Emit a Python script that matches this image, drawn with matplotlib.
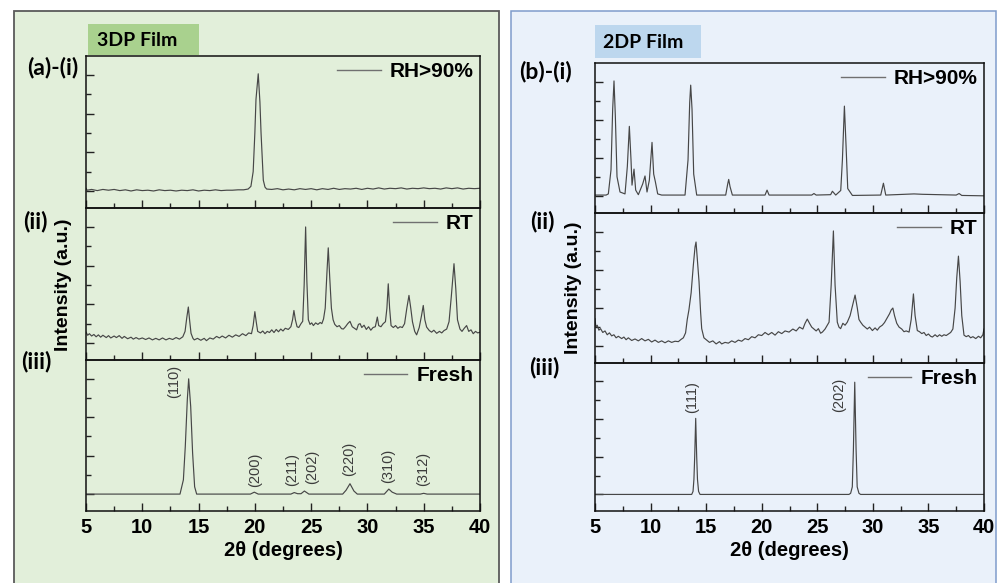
import matplotlib
matplotlib.use('Agg')
import matplotlib.pyplot as plt
from matplotlib.patches import Rectangle
from matplotlib.ticker import MultipleLocator
from matplotlib.font_manager import FontProperties

# ---------------- data ----------------
x_3dp_rh = [5.0, 5.1, 5.5, 6.0, 6.5, 7.0, 7.5, 8.0, 8.5, 9.0, 9.5, 10.0, 10.5, 11.0, 11.5, 12.0, 12.5, 13.0,
            13.5, 14.0, 14.5, 15.0, 15.5, 16.0, 16.5, 17.0, 17.5, 18.0, 18.5, 19.0, 19.4, 19.65, 19.85, 20.0,
            20.1, 20.3, 20.45, 20.55, 20.75, 20.9, 21.05, 21.5, 22.0, 22.5, 23.0, 23.5, 24.0, 24.5, 25.0, 25.5,
            26.0, 26.5, 27.0, 27.5, 28.0, 28.5, 29.0, 29.5, 30.0, 30.5, 31.0, 31.5, 32.0, 32.5, 33.0, 33.5,
            34.0, 34.5, 35.0, 35.5, 36.0, 36.5, 37.0, 37.5, 38.0, 38.5, 39.0, 39.5, 40.0]
y_3dp_rh = [0.07, 0.02, 0.04, 0.01, 0.04, 0.02, 0.04, 0.01, 0.03, 0.00, 0.03, 0.01, 0.02, 0.00, 0.03, 0.01, 0.02, 0.00,
            0.02, 0.01, 0.03, 0.00, 0.02, 0.01, 0.03, 0.01, 0.02, 0.02, 0.03, 0.03, 0.05, 0.12, 0.50, 1.50,
            2.37, 3.03, 2.30, 1.50, 0.28, 0.10, 0.05, 0.04, 0.06, 0.03, 0.05, 0.03, 0.06, 0.04, 0.06, 0.03,
            0.06, 0.04, 0.07, 0.04, 0.06, 0.05, 0.07, 0.04, 0.07, 0.05, 0.08, 0.05, 0.07, 0.06, 0.08, 0.05,
            0.07, 0.06, 0.08, 0.06, 0.07, 0.05, 0.08, 0.06, 0.08, 0.05, 0.07, 0.06, 0.07]

x_3dp_rt = [5.0, 5.15, 5.3, 5.5, 5.7, 5.9, 6.1, 6.3, 6.5, 6.8, 7.0, 7.2, 7.5, 7.7, 7.95, 8.2, 8.4, 8.7, 9.0, 9.2,
            9.45, 9.7, 10.0, 10.3, 10.6, 10.9, 11.2, 11.5, 11.8, 12.1, 12.4, 12.7, 13.0, 13.3, 13.6, 13.8, 13.95,
            14.09, 14.2, 14.33, 14.5, 14.62, 14.9, 15.2, 15.5, 15.7, 16.0, 16.3, 16.6, 16.85, 17.1, 17.4, 17.7,
            18.0, 18.3, 18.6, 18.9, 19.2, 19.45, 19.7, 19.85, 20.0, 20.12, 20.25, 20.5, 20.7, 20.9, 21.1, 21.3,
            21.5, 21.7, 21.9, 22.1, 22.3, 22.5, 22.7, 22.97, 23.2, 23.35, 23.47, 23.6, 23.75, 23.9, 24.1, 24.25,
            24.38, 24.51, 24.62, 24.75, 24.9, 25.05, 25.2, 25.4, 25.6, 25.8, 25.95, 26.1, 26.25, 26.4, 26.52,
            26.65, 26.8, 26.95, 27.1, 27.3, 27.5, 27.7, 27.86, 28.05, 28.25, 28.45, 28.65, 28.85, 29.04, 29.2,
            29.35, 29.5, 29.7, 29.9, 30.1, 30.3, 30.5, 30.7, 30.88, 31.0, 31.2, 31.4, 31.6, 31.73, 31.85, 31.97,
            32.1, 32.3, 32.5, 32.7, 32.9, 33.1, 33.3, 33.5, 33.69, 33.85, 34.0, 34.2, 34.37, 34.6, 34.8, 34.96,
            35.1, 35.26, 35.5, 35.7, 35.9, 36.15, 36.4, 36.6, 36.8, 37.04, 37.25, 37.45, 37.69, 37.85, 38.0,
            38.22, 38.4, 38.6, 38.81, 39.0, 39.2, 39.4, 39.6, 39.8, 40.0]
y_3dp_rt = [0.28, 0.20, 0.24, 0.18, 0.22, 0.16, 0.21, 0.15, 0.20, 0.14, 0.19, 0.13, 0.18, 0.14, 0.19, 0.12, 0.17,
            0.11, 0.15, 0.10, 0.14, 0.10, 0.13, 0.09, 0.13, 0.08, 0.12, 0.08, 0.13, 0.08, 0.12, 0.09, 0.14, 0.10,
            0.16, 0.30, 0.65, 0.93, 0.60, 0.25, 0.12, 0.08, 0.12, 0.07, 0.12, 0.06, 0.13, 0.10, 0.17, 0.13, 0.18,
            0.13, 0.20, 0.15, 0.21, 0.17, 0.24, 0.19, 0.26, 0.24, 0.45, 0.81, 0.55, 0.30, 0.26, 0.31, 0.24, 0.30,
            0.27, 0.34, 0.27, 0.35, 0.29, 0.36, 0.31, 0.38, 0.35, 0.42, 0.60, 0.84, 0.60, 0.42, 0.40, 0.50, 0.56,
            1.50, 3.00, 1.60, 0.60, 0.48, 0.52, 0.45, 0.52, 0.48, 0.53, 0.50, 0.62, 0.90, 1.80, 2.46, 1.70, 0.90,
            0.60, 0.48, 0.42, 0.45, 0.37, 0.36, 0.42, 0.50, 0.56, 0.42, 0.38, 0.34, 0.48, 0.50, 0.40, 0.46, 0.35,
            0.42, 0.33, 0.40, 0.42, 0.67, 0.45, 0.42, 0.50, 0.55, 0.90, 1.53, 0.90, 0.45, 0.40, 0.45, 0.38, 0.42,
            0.40, 0.50, 0.90, 1.23, 0.90, 0.55, 0.30, 0.21, 0.40, 0.70, 0.97, 0.60, 0.41, 0.32, 0.28, 0.33, 0.25,
            0.30, 0.26, 0.32, 0.36, 0.55, 1.20, 2.05, 1.40, 0.60, 0.36, 0.30, 0.38, 0.45, 0.30, 0.34, 0.24, 0.30,
            0.26, 0.28]

x_3dp_fresh = [5.0, 13.35, 13.65, 13.82, 14.0, 14.12, 14.3, 14.47, 14.65, 14.83, 19.6, 19.95, 20.3, 23.2, 23.5,
               23.8, 24.1, 24.4, 24.8, 27.8, 28.1, 28.45, 28.8, 29.1, 31.5, 31.9, 32.2, 32.6, 34.7, 35.0, 35.3, 40.0]
y_3dp_fresh = [0.0, 0.0, 0.37, 1.24, 2.46, 3.0, 2.28, 1.07, 0.19, 0.0, 0.0, 0.05, 0.0, 0.0, 0.04,
               0.01, 0.01, 0.08, 0.0, 0.0, 0.10, 0.27, 0.08, 0.0, 0.0, 0.13, 0.05, 0.0, 0.0, 0.02, 0.0, 0.0]

x_2dp_rh = [5.0, 6.0, 6.2, 6.44, 6.59, 6.71, 6.83, 6.98, 7.25, 7.7, 7.91, 8.09, 8.24, 8.33, 8.51, 8.66, 8.9, 9.29,
            9.5, 9.68, 9.89, 10.13, 10.28, 10.43, 10.64, 11.0, 13.1, 13.37, 13.52, 13.61, 13.73, 13.88, 14.15,
            16.76, 16.94, 17.03, 17.15, 17.36, 20.3, 20.48, 20.66, 24.5, 24.7, 24.9, 26.2, 26.36, 26.66, 27.11,
            27.26, 27.44, 27.59, 27.74, 28.16, 30.71, 30.95, 31.16, 33.7, 34.46, 37.5, 37.76, 38.0, 40.0]
y_2dp_rh = [0.03, 0.03, 0.06, 0.69, 2.28, 3.02, 2.10, 0.51, 0.11, 0.06, 0.78, 1.83, 0.95, 0.29, 0.71, 0.16, 0.04,
            0.32, 0.53, 0.11, 0.42, 1.41, 0.58, 0.38, 0.06, 0.03, 0.03, 0.95, 2.45, 2.91, 2.28, 0.58, 0.03,
            0.03, 0.32, 0.44, 0.25, 0.03, 0.03, 0.16, 0.03, 0.03, 0.07, 0.03, 0.04, 0.13, 0.03, 0.15,
            0.95, 2.36, 1.31, 0.20, 0.02, 0.03, 0.34, 0.03, 0.06, 0.05, 0.03, 0.07, 0.02, 0.01]

x_2dp_rt = [5.0, 5.08, 5.2, 5.35, 5.5, 5.7, 5.9, 6.1, 6.3, 6.5, 6.7, 6.9, 7.1, 7.4, 7.6, 7.8, 8.0, 8.3, 8.6, 8.9,
            9.2, 9.5, 9.8, 10.1, 10.4, 10.7, 11.0, 11.3, 11.6, 11.9, 12.2, 12.5, 12.75, 12.95, 13.15, 13.3, 13.45,
            13.65, 13.85, 14.0, 14.09, 14.2, 14.36, 14.5, 14.6, 14.8, 15.05, 15.3, 15.6, 15.9, 16.2, 16.4, 16.7,
            17.0, 17.3, 17.6, 17.9, 18.2, 18.5, 18.8, 19.1, 19.4, 19.7, 20.0, 20.3, 20.6, 20.9, 21.2, 21.5, 21.8,
            22.1, 22.46, 22.8, 23.1, 23.4, 23.7, 23.9, 24.1, 24.3, 24.5, 24.7, 24.9, 25.1, 25.3, 25.46, 25.7,
            25.9, 26.06, 26.25, 26.45, 26.6, 26.8, 26.95, 27.1, 27.3, 27.5, 27.7, 27.95, 28.2, 28.4, 28.6, 28.75,
            28.9, 29.1, 29.3, 29.5, 29.7, 29.96, 30.2, 30.4, 30.6, 30.85, 31.05, 31.3, 31.5, 31.65, 31.8, 31.95,
            32.15, 32.36, 32.6, 32.8, 33.0, 33.26, 33.45, 33.65, 33.8, 34.0, 34.2, 34.4, 34.6, 34.8, 35.0, 35.2,
            35.36, 35.6, 35.8, 36.0, 36.2, 36.4, 36.6, 36.8, 37.0, 37.2, 37.4, 37.55, 37.7, 37.85, 38.0, 38.2,
            38.4, 38.6, 38.8, 39.0, 39.26, 39.5, 39.7, 39.9, 40.0]
y_2dp_rt = [0.72, 0.50, 0.55, 0.42, 0.46, 0.36, 0.40, 0.30, 0.35, 0.27, 0.30, 0.22, 0.26, 0.20, 0.24, 0.17, 0.22,
            0.15, 0.19, 0.14, 0.20, 0.14, 0.18, 0.11, 0.16, 0.10, 0.14, 0.09, 0.14, 0.10, 0.13, 0.12, 0.18, 0.22,
            0.35, 0.70, 0.95, 1.40, 2.13, 2.60, 2.73, 2.30, 1.69, 0.90, 0.46, 0.22, 0.16, 0.10, 0.14, 0.06, 0.12,
            0.06, 0.10, 0.08, 0.14, 0.10, 0.16, 0.13, 0.20, 0.17, 0.25, 0.22, 0.30, 0.28, 0.36, 0.30, 0.36, 0.29,
            0.38, 0.33, 0.40, 0.37, 0.45, 0.40, 0.50, 0.45, 0.60, 0.71, 0.60, 0.50, 0.45, 0.40, 0.46, 0.34, 0.37,
            0.45, 0.55, 0.63, 1.60, 3.02, 1.60, 0.63, 0.50, 0.46, 0.60, 0.55, 0.63, 0.80, 1.10, 1.34, 1.00, 0.70,
            0.63, 0.55, 0.50, 0.45, 0.50, 0.41, 0.48, 0.42, 0.50, 0.55, 0.62, 0.75, 0.85, 0.95, 1.00, 0.80, 0.60,
            0.50, 0.45, 0.38, 0.40, 0.37, 0.70, 1.37, 0.80, 0.41, 0.38, 0.33, 0.36, 0.28, 0.32, 0.26, 0.24, 0.30,
            0.25, 0.30, 0.26, 0.30, 0.28, 0.32, 0.36, 0.45, 1.00, 1.80, 2.36, 1.70, 0.80, 0.29, 0.25, 0.28, 0.22,
            0.25, 0.20, 0.26, 0.22, 0.30, 0.45]

x_2dp_fresh = [5.0, 13.7, 13.82, 13.9, 13.97, 14.06, 14.15, 14.22, 14.32, 14.45, 27.85, 28.0, 28.15, 28.25, 28.37,
               28.49, 28.59, 28.75, 28.9, 40.0]
y_2dp_fresh = [0.0, 0.0, 0.08, 0.40, 1.00, 2.02, 1.00, 0.40, 0.08, 0.0, 0.0, 0.03, 0.20, 1.20, 2.98,
               1.20, 0.20, 0.03, 0.0, 0.0]

series_names = ['RH>90%', 'RT', 'Fresh']

hkl_3dp_labels = ['(110)', '(200)', '(211)', '(202)', '(220)', '(310)', '(312)']
hkl_3dp_x = [12.8, 20.0, 23.35, 25.05, 28.4, 31.85, 34.97]
hkl_3dp_y = [2.5, 0.19, 0.22, 0.27, 0.46, 0.30, 0.20]

hkl_2dp_labels = ['(111)', '(202)']
hkl_2dp_x = [13.75, 27.0]
hkl_2dp_y = [2.16, 2.2]

xticks = [5, 10, 15, 20, 25, 30, 35, 40]

# ---------------- figure ----------------
W, H = 998, 583
fig = plt.figure(figsize=(W / 100, H / 100), dpi=100)
fig.patch.set_facecolor('white')


def frect(x0, y0, x1, y1):
    return [x0 / W, 1 - y1 / H, (x1 - x0) / W, (y1 - y0) / H]


def fpt(x, y):
    return x / W, 1 - y / H


# panel backgrounds
fig.add_artist(Rectangle((14 / W, 1 - 600 / H), (499 - 14) / W, (600 - 11) / H, transform=fig.transFigure,
                         facecolor='#e2efda', edgecolor='#5a5a5a', lw=1.3, zorder=0))
fig.add_artist(Rectangle((511 / W, 1 - 600 / H), (996 - 511) / W, (600 - 11) / H, transform=fig.transFigure,
                         facecolor='#eaf1fa', edgecolor='#7f9ccc', lw=1.1, zorder=0))
# title boxes
fig.add_artist(Rectangle((88 / W, 1 - 55 / H), (199 - 88) / W, (55 - 24) / H, transform=fig.transFigure,
                         facecolor='#a9d18e', edgecolor='none', zorder=1))
fig.add_artist(Rectangle((595 / W, 1 - 58 / H), (701 - 595) / W, (58 - 25) / H, transform=fig.transFigure,
                         facecolor='#bdd7ee', edgecolor='none', zorder=1))

calib = FontProperties(family=['Lato', 'DejaVu Sans'], weight='bold', size=14)
arialb = ['Liberation Sans', 'DejaVu Sans']

fig.text(*fpt(97, 41), '3DP Film', fontproperties=calib, ha='left', va='center', zorder=2)
fig.text(*fpt(603, 43), '2DP Film', fontproperties=calib, ha='left', va='center', zorder=2)

line_color = '#474747'

panels = [
    dict(xr=(86, 480), rows=[(56, 208), (208, 360), (360, 511)],
         data=[(x_3dp_rh, y_3dp_rh), (x_3dp_rt, y_3dp_rt), (x_3dp_fresh, y_3dp_fresh)],
         hkl=(hkl_3dp_labels, hkl_3dp_x, hkl_3dp_y),
         tags=[('(a)-(i)', 27, 68), ('(ii)', 23, 222), ('(iii)', 21, 362)],
         ylab=(64, 285)),
    dict(xr=(595, 984), rows=[(63, 213), (213, 363), (363, 511)],
         data=[(x_2dp_rh, y_2dp_rh), (x_2dp_rt, y_2dp_rt), (x_2dp_fresh, y_2dp_fresh)],
         hkl=(hkl_2dp_labels, hkl_2dp_x, hkl_2dp_y),
         tags=[('(b)-(i)', 519, 72), ('(ii)', 530, 222), ('(iii)', 529, 368)],
         ylab=(574, 288)),
]

for p in panels:
    x0, x1 = p['xr']
    for i, (y0, y1) in enumerate(p['rows']):
        ax = fig.add_axes(frect(x0, y0, x1, y1))
        ax.set_facecolor('none')
        xs, ys = p['data'][i]
        ax.plot(xs, ys, color=line_color, lw=0.85, label=series_names[i])
        ax.set_xlim(5, 40)
        ax.set_ylim(-0.44, 3.49)
        ax.xaxis.set_major_locator(MultipleLocator(5))
        ax.xaxis.set_minor_locator(MultipleLocator(2.5))
        ax.yaxis.set_major_locator(MultipleLocator(1))
        ax.yaxis.set_minor_locator(MultipleLocator(0.5))
        ax.tick_params(which='both', direction='in', top=False, right=False, labelleft=False, width=1.0,
                       color='#222222')
        ax.tick_params(which='major', length=5.5)
        ax.tick_params(which='minor', length=3.3)
        for s in ax.spines.values():
            s.set_linewidth(1.1)
            s.set_color('#111111')
        leg = ax.legend(loc='upper right', frameon=False, handlelength=2.1, handletextpad=0.45,
                        borderaxespad=0.05, borderpad=0.25,
                        prop=FontProperties(family=arialb, weight='bold', size=15))
        for lh in leg.get_lines():
            lh.set_color('#707070')
            lh.set_linewidth(1.0)
        if i < 2:
            ax.tick_params(labelbottom=False)
        else:
            ax.set_xticks(xticks)
            for lab in ax.get_xticklabels():
                lab.set_fontfamily(arialb)
                lab.set_fontweight('bold')
                lab.set_fontsize(14.5)
            ax.tick_params(which='major', pad=5)
            ax.set_xlabel('2θ (degrees)', fontfamily=arialb, fontweight='bold', fontsize=14.5, labelpad=3)
            labs, hx, hy = p['hkl']
            for t, xx, yy in zip(labs, hx, hy):
                ax.text(xx, yy, t, rotation=90, ha='center', va='bottom', fontsize=10.5,
                        color='#3c3c3c', fontfamily=arialb)
    for t, tx, ty in p['tags']:
        fig.text(*fpt(tx, ty), t, fontproperties=FontProperties(family=['Lato', 'DejaVu Sans'], weight='bold',
                                                                 size=16.5), ha='left', va='center')
    fig.text(*fpt(*p['ylab']), 'Intensity (a.u.)', rotation=90, ha='center', va='center',
             fontfamily=arialb, fontweight='bold', fontsize=14)

fig.savefig('out.png', dpi=100, facecolor='white')
